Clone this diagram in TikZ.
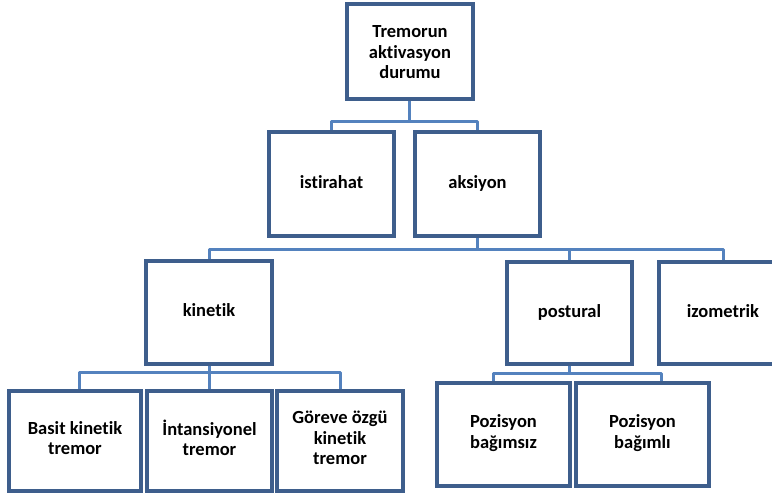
\documentclass[tikz,border=0pt]{standalone}
\usepackage{fontspec}
\setmainfont{Carlito}[Ligatures=NoCommon]
\definecolor{boxline}{RGB}{62,94,140}
\definecolor{conn}{RGB}{84,130,190}
\begin{document}
\begin{tikzpicture}[x=1pt,y=-1pt,
  box/.style={draw=boxline, line width=2.6pt, fill=white, align=center,
    inner sep=0pt, font=\fontsize{18.5}{20.5}\selectfont\bfseries,
    execute at begin node=\strut, execute at end node=\strut},
  link/.style={draw=conn, line width=3pt, line join=round}]
\useasboundingbox (0,0) rectangle (772,493);
\clip (0,0) rectangle (772,493);
% level 0
\node[box, minimum width=124pt, minimum height=93pt] (top) at (410,51.5) {\rule{0pt}{20pt}Tremorun\\aktivasyon\\durumu};
% level 1
\node[box, minimum width=123pt, minimum height=102pt] (ist) at (331.5,184) {istirahat};
\node[box, minimum width=123pt, minimum height=102pt] (aks) at (477.5,184) {aksiyon};
% level 2
\node[box, minimum width=124pt, minimum height=101pt] (kin) at (209,312.5) {kinetik};
\node[box, minimum width=123pt, minimum height=100pt] (pos) at (569.5,313) {postural};
\node[box, minimum width=126pt, minimum height=100pt] (izo) at (723,313) {izometrik};
% level 3
\node[box, minimum width=130pt, minimum height=98pt] (bas) at (75,441) {Basit kinetik\\tremor};
\node[box, minimum width=123pt, minimum height=98pt] (int) at (209.5,441) {İntansiyonel\\tremor};
\node[box, minimum width=124pt, minimum height=98pt] (gor) at (340,441) {Göreve özgü\\kinetik\\tremor};
\node[box, minimum width=131pt, minimum height=101pt] (pbs) at (503.5,434.5) {Pozisyon\\bağımsız};
\node[box, minimum width=131pt, minimum height=101pt] (pbl) at (642.5,434.5) {Pozisyon\\bağımlı};
% bar levels
\coordinate (b1) at (0,121);
\coordinate (b2) at (0,249);
\coordinate (b3) at (0,372);
\coordinate (b4) at (0,373);
% connectors
\draw[link] ([xshift=-1pt]top.south) -- ([xshift=-1pt]top.south |- b1);
\draw[link] (ist.north) |- (b1 -| aks.north) -- (aks.north);
\draw[link] (aks.south) -- (aks.south |- b2);
\draw[link] (kin.north) |- (b2 -| izo.north) -- (izo.north);
\draw[link] ([xshift=-0.5pt]pos.north) -- ([xshift=-0.5pt]pos.north |- b2);
\draw[link] (kin.south) -- (kin.south |- b3);
\draw[link] ([xshift=4pt]bas.north) |- (b3 -| gor.north) -- (gor.north);
\draw[link] (int.north) -- (int.north |- b3);
\draw[link] ([xshift=-0.5pt]pos.south) -- ([xshift=-0.5pt]pos.south |- b4);
\draw[link] ([xshift=-10.5pt]pbs.north) |- ([xshift=18.5pt]b4 -| pbl.north) -- ([xshift=18.5pt]pbl.north);
% redraw box outlines over connector ends
\foreach \n in {top,ist,aks,kin,pos,izo,bas,int,gor,pbs,pbl}{
  \draw[boxline, line width=2.6pt] (\n.north west) rectangle (\n.south east);
}
\end{tikzpicture}
\end{document}
